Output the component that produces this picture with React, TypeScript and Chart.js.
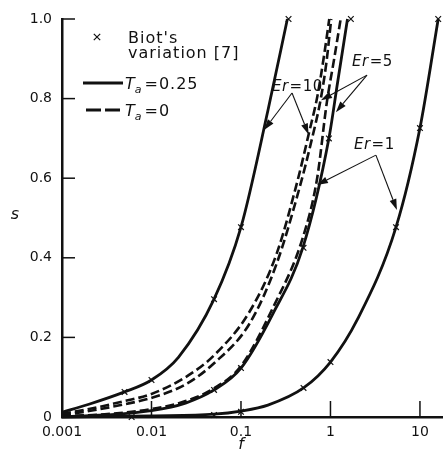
import React, { useEffect, useRef } from "react";
import { Chart, registerables } from "chart.js";

Chart.register(...registerables);

// ---- Axis ticks ----
const xTickValues = [0.001, 0.01, 0.1, 1, 10];
const xTickLabels = ["0.001", "0.01", "0.1", "1", "10"];
const yTickValues = [0, 0.2, 0.4, 0.6, 0.8, 1.0];
const yTickLabels = ["0", "0.2", "0.4", "0.6", "0.8", "1.0"];

// ---- Curves (f, s) ----
// Er = 10, Ta = 0.25 (solid)
const er10SolidF = [0.001, 0.002, 0.005, 0.01, 0.02, 0.05, 0.1, 0.2, 0.33];
const er10SolidS = [0.012, 0.032, 0.063, 0.093, 0.15, 0.296, 0.477, 0.77, 1.0];
// Er = 10, Ta = 0 (dashed)
const er10DashF = [0.001, 0.002, 0.005, 0.01, 0.024, 0.05, 0.125, 0.25, 0.43, 0.57, 0.72, 0.85, 0.97];
const er10DashS = [0.008, 0.02, 0.04, 0.058, 0.1, 0.155, 0.265, 0.41, 0.595, 0.71, 0.81, 0.91, 1.0];
// Er = 5, Ta = 0 (dashed)
const er5DashF = [0.001, 0.002, 0.005, 0.01, 0.024, 0.05, 0.125, 0.25, 0.45, 0.6, 0.78, 0.9, 1.02];
const er5DashS = [0.005, 0.015, 0.032, 0.048, 0.082, 0.135, 0.235, 0.385, 0.575, 0.685, 0.8, 0.89, 1.0];
// Er = 5, Ta = 0.25 (solid)
const er5SolidF = [0.001, 0.003, 0.01, 0.024, 0.05, 0.1, 0.228, 0.49, 0.96, 1.2, 1.55];
const er5SolidS = [0.001, 0.005, 0.016, 0.035, 0.068, 0.123, 0.26, 0.425, 0.7, 0.84, 1.0];
// Er = 1, Ta = 0 (dashed)
const er1DashF = [0.001, 0.003, 0.01, 0.024, 0.05, 0.1, 0.228, 0.49, 0.71, 0.91, 1.1, 1.3];
const er1DashS = [0.002, 0.007, 0.02, 0.04, 0.072, 0.128, 0.275, 0.45, 0.6, 0.79, 0.9, 1.0];
// Er = 1, Ta = 0.25 (solid)
const er1SolidF = [0.001, 0.01, 0.05, 0.1, 0.2, 0.5, 1, 2, 5.4, 10, 16];
const er1SolidS = [0, 0.003, 0.007, 0.015, 0.03, 0.073, 0.138, 0.245, 0.477, 0.726, 1.0];

// Biot's variation [7] (crosses)
const biotF = [0.005, 0.01, 0.05, 0.1, 0.34, 0.05, 0.1, 0.5, 0.96, 1.69, 0.006, 0.05, 0.1, 0.5, 1, 5.4, 10, 16];
const biotS = [0.063, 0.093, 0.296, 0.477, 1.0, 0.068, 0.123, 0.425, 0.7, 1.0, 0.0, 0.005, 0.013, 0.073, 0.138, 0.477, 0.726, 1.0];

// ---- Annotations (data coordinates) ----
const erValues = ["10", "5", "1"];
const erLabelF = [0.222, 1.74, 1.83];
const erLabelS = [0.83, 0.892, 0.683];
const erApexF = [0.372, 2.56, 3.22];
const erApexS = [0.814, 0.859, 0.658];
const erTargetF = [[0.181, 0.57], [0.783, 1.15], [0.706, 5.53]];
const erTargetS = [[0.721, 0.71], [0.796, 0.766], [0.583, 0.52]];

const FONT = '"DejaVu Sans", sans-serif';
const INK = "#111";

function pts(f: number[], s: number[]) {
  return f.map((v, i) => ({ x: v, y: s[i] }));
}

function drawArrow(ctx: CanvasRenderingContext2D, x1: number, y1: number, x2: number, y2: number) {
  const ang = Math.atan2(y2 - y1, x2 - x1);
  const hl = 11;
  const hw = 3.5;
  const bx = x2 - hl * Math.cos(ang);
  const by = y2 - hl * Math.sin(ang);
  ctx.beginPath();
  ctx.moveTo(x1, y1);
  ctx.lineTo(bx, by);
  ctx.stroke();
  ctx.beginPath();
  ctx.moveTo(x2, y2);
  ctx.lineTo(bx + hw * Math.sin(ang), by - hw * Math.cos(ang));
  ctx.lineTo(bx - hw * Math.sin(ang), by + hw * Math.cos(ang));
  ctx.closePath();
  ctx.fill();
}

function drawCross(ctx: CanvasRenderingContext2D, x: number, y: number, r: number) {
  ctx.beginPath();
  ctx.moveTo(x - r, y - r);
  ctx.lineTo(x + r, y + r);
  ctx.moveTo(x + r, y - r);
  ctx.lineTo(x - r, y + r);
  ctx.stroke();
}

function drawTa(ctx: CanvasRenderingContext2D, x: number, y: number, rest: string) {
  ctx.font = `italic 16px ${FONT}`;
  ctx.fillText("T", x, y);
  let w = ctx.measureText("T").width;
  ctx.font = `italic 11px ${FONT}`;
  ctx.fillText("a", x + w - 1, y + 4);
  w += ctx.measureText("a").width + 1;
  ctx.font = `16px ${FONT}`;
  ctx.fillText(rest, x + w, y);
}

const annotPlugin = {
  id: "annot",
  afterDraw(chart: any) {
    const { ctx, chartArea, scales } = chart;
    const xs = scales.x;
    const ys = scales.y;
    const L = chartArea.left;
    const T = chartArea.top;
    const B = chartArea.bottom;
    ctx.save();
    ctx.strokeStyle = INK;
    ctx.fillStyle = INK;

    // inner ticks
    ctx.lineWidth = 1.5;
    yTickValues.forEach((v) => {
      if (v === 0) return;
      const py = ys.getPixelForValue(v);
      ctx.beginPath();
      ctx.moveTo(L, py);
      ctx.lineTo(L + 13, py);
      ctx.stroke();
    });
    xTickValues.forEach((v, i) => {
      if (i === 0) return;
      const px = xs.getPixelForValue(v);
      ctx.beginPath();
      ctx.moveTo(px, B);
      ctx.lineTo(px, B - 16);
      ctx.stroke();
    });

    // legend
    ctx.lineWidth = 1.2;
    drawCross(ctx, L + 35, T + 18, 3.2);
    ctx.textBaseline = "alphabetic";
    ctx.textAlign = "left";
    (ctx as any).letterSpacing = "1px";
    ctx.font = `16px ${FONT}`;
    ctx.fillText("Biot's", L + 66, T + 24);
    ctx.fillText("variation [7]", L + 66, T + 39);

    ctx.lineWidth = 3;
    ctx.setLineDash([]);
    ctx.beginPath();
    ctx.moveTo(L + 21, T + 64);
    ctx.lineTo(L + 61, T + 64);
    ctx.stroke();
    drawTa(ctx, L + 63, T + 70, "=0.25");

    ctx.setLineDash([15, 4]);
    ctx.beginPath();
    ctx.moveTo(L + 24, T + 91);
    ctx.lineTo(L + 61, T + 91);
    ctx.stroke();
    ctx.setLineDash([]);
    drawTa(ctx, L + 63, T + 97, "=0");

    // Er labels and arrows
    (ctx as any).letterSpacing = "0.5px";
    ctx.lineWidth = 1.1;
    erValues.forEach((val, i) => {
      const lx = xs.getPixelForValue(erLabelF[i]);
      const ly = ys.getPixelForValue(erLabelS[i]);
      ctx.textBaseline = "middle";
      ctx.font = `italic 15px ${FONT}`;
      ctx.fillText("Er", lx, ly);
      const w = ctx.measureText("Er").width;
      ctx.font = `15px ${FONT}`;
      ctx.fillText("=" + val, lx + w + 1, ly);
      const ax = xs.getPixelForValue(erApexF[i]);
      const ay = ys.getPixelForValue(erApexS[i]);
      erTargetF[i].forEach((tf, j) => {
        const tx = xs.getPixelForValue(tf);
        const ty = ys.getPixelForValue(erTargetS[i][j]);
        drawArrow(ctx, ax, ay, tx, ty);
      });
    });

    // axis titles
    (ctx as any).letterSpacing = "0px";
    ctx.textAlign = "center";
    ctx.textBaseline = "middle";
    ctx.font = `italic 16px ${FONT}`;
    ctx.fillText("s", 15, ys.getPixelForValue(0.5) - 3);
    ctx.fillText("f", xs.getPixelForValue(0.1), B + 28);
    ctx.restore();
  },
};

export default function App() {
  const ref = useRef<HTMLCanvasElement | null>(null);

  useEffect(() => {
    if (!ref.current) return;
    const curve = (f: number[], s: number[], dashed: boolean) => ({
      data: pts(f, s),
      showLine: true,
      borderColor: INK,
      backgroundColor: INK,
      borderWidth: dashed ? 2.6 : 2.8,
      borderDash: dashed ? [9, 4] : [],
      pointRadius: 0,
      cubicInterpolationMode: "monotone" as const,
      clip: false as any,
    });
    const chart = new Chart(ref.current, {
      type: "scatter",
      data: {
        datasets: [
          curve(er10SolidF, er10SolidS, false),
          curve(er10DashF, er10DashS, true),
          curve(er5DashF, er5DashS, true),
          curve(er5SolidF, er5SolidS, false),
          curve(er1DashF, er1DashS, true),
          curve(er1SolidF, er1SolidS, false),
          {
            data: pts(biotF, biotS),
            showLine: false,
            pointStyle: "crossRot",
            pointRadius: 4,
            pointBorderWidth: 1.2,
            borderColor: INK,
            backgroundColor: INK,
            clip: false as any,
          },
        ],
      },
      options: {
        animation: false,
        responsive: true,
        maintainAspectRatio: false,
        layout: { padding: { top: 19, left: 0, right: 0, bottom: 0 } },
        plugins: { legend: { display: false }, tooltip: { enabled: false } },
        scales: {
          x: {
            type: "logarithmic",
            min: 0.001,
            max: 18,
            afterBuildTicks: (s: any) => {
              s.ticks = xTickValues.map((v) => ({ value: v }));
            },
            afterFit: (s: any) => {
              s.height = 38;
            },
            ticks: {
              autoSkip: false,
              maxRotation: 0,
              padding: 7,
              color: INK,
              font: { family: FONT, size: 14 },
              callback: (_v: any, i: number) => xTickLabels[i],
            },
            grid: { display: false, drawTicks: false },
            border: { display: true, color: INK, width: 2.5 },
          },
          y: {
            type: "linear",
            min: 0,
            max: 1,
            afterBuildTicks: (s: any) => {
              s.ticks = yTickValues.map((v) => ({ value: v }));
            },
            afterFit: (s: any) => {
              s.width = 62;
            },
            ticks: {
              autoSkip: false,
              padding: 10,
              color: INK,
              font: { family: FONT, size: 14 },
              callback: (_v: any, i: number) => yTickLabels[i],
            },
            grid: { display: false, drawTicks: false },
            border: { display: true, color: INK, width: 2.5 },
          },
        },
      },
      plugins: [annotPlugin],
    });
    return () => chart.destroy();
  }, []);

  return (
    <div style={{ position: "fixed", left: 0, top: 0, width: 448, height: 455, background: "#fff" }}>
      <canvas ref={ref} />
    </div>
  );
}
